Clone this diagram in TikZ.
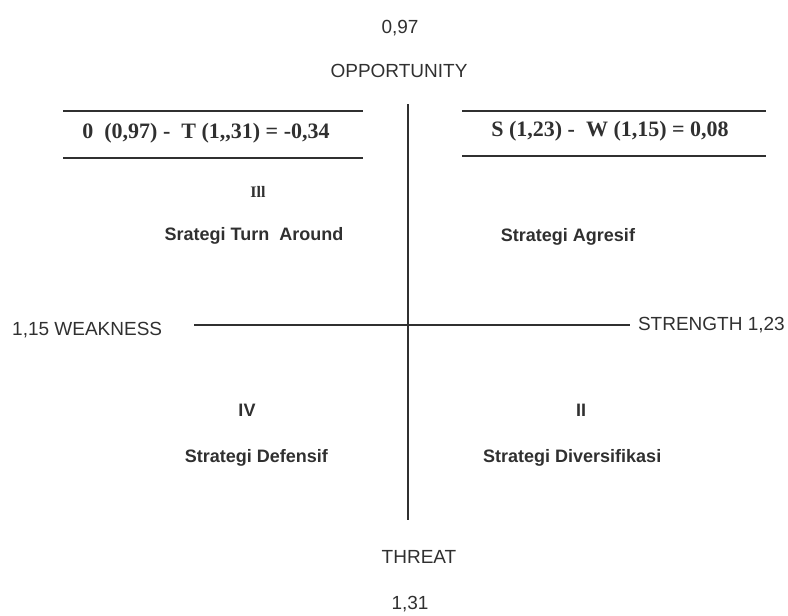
\documentclass[tikz,border=0pt]{standalone}
\usepackage{fontspec}
\setmainfont{Liberation Sans}
\newfontfamily\serifb{Liberation Serif}
\definecolor{ink}{HTML}{303030}
\begin{document}
\begin{tikzpicture}[x=1pt,y=-1pt,
  ax/.style={line width=1.3pt,draw=ink},
  rule/.style={line width=1.3pt,draw=ink},
  lbl/.style={font=\fontsize{19}{21}\selectfont,text=ink,inner sep=0pt},
  eq/.style={font=\serifb\bfseries\fontsize{22}{24}\selectfont,text=ink,inner sep=0pt},
  strat/.style={font=\bfseries\fontsize{18}{20}\selectfont,text=ink,inner sep=0pt},
  roman/.style={font=\bfseries\fontsize{18}{20}\selectfont,text=ink,inner sep=0pt}]
\useasboundingbox (0,0) rectangle (788,616);
% axes
\coordinate (vt) at (408,104);
\coordinate (vb) at (408,520);
\coordinate (hl) at (194,325);
\coordinate (hr) at (630,325);
\draw[ax] (vt) -- (vb);
\draw[ax] (hl) -- (hr);
% top labels
\node[lbl] (o97) at (400,28) {0,97};
\node[lbl] (opp) at (399,71) {OPPORTUNITY};
% left equation box
\coordinate (l1a) at (63,111); \coordinate (l1b) at (363,111);
\coordinate (l2a) at (63,158); \coordinate (l2b) at (363,158);
\draw[rule] (l1a) -- (l1b);
\draw[rule] (l2a) -- (l2b);
\node[eq] (eqL) at (206,133) {0\ \ (0,97) -\ \ T (1,,31) = -0,34};
% right equation box
\coordinate (r1a) at (462,111); \coordinate (r1b) at (766,111);
\coordinate (r2a) at (462,156); \coordinate (r2b) at (766,156);
\draw[rule] (r1a) -- (r1b);
\draw[rule] (r2a) -- (r2b);
\node[eq] (eqR) at (610,131) {S (1,23) -\ \ W (1,15) = 0,08};
% quadrants
\node[font=\serifb\bfseries\fontsize{16}{18}\selectfont,text=ink,inner sep=0pt] (q3) at (258,192) {Ill};
\node[strat] (s3) at (254,236) {Srategi Turn\ \ Around};
\node[strat] (s1) at (568,237) {Strategi Agresif};
\node[roman] (q4) at (247,410) {IV};
\node[roman] (q2) at (581,410) {II};
\node[strat,anchor=east] (s4) at (328,458) {Strategi Defensif};
\node[strat,anchor=west] (s2) at (483,458) {Strategi Diversifikasi};
% side labels
\node[lbl,anchor=west] (wk) at (12,330) {1,15 WEAKNESS};
\node[lbl,anchor=east] (st) at (785,325) {STRENGTH 1,23};
% bottom
\node[lbl] (thr) at (419,557) {THREAT};
\node[lbl] (t31) at (410,604) {1,31};
\end{tikzpicture}
\end{document}
